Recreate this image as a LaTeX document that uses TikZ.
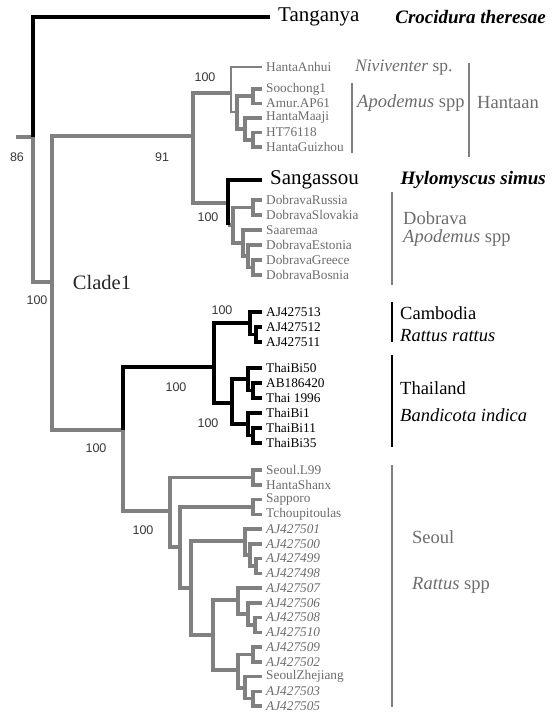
\documentclass[tikz,border=0pt]{standalone}
\usepackage{fontspec}
\setmainfont{Liberation Serif}
\setsansfont{Liberation Sans}
\usepackage{xcolor}
\definecolor{brgray}{RGB}{128,128,128}
\definecolor{txgray}{RGB}{108,108,108}
\definecolor{bsgray}{RGB}{55,55,55}
\tikzset{
  every picture/.style={line join=miter},
  gbr/.style={draw=brgray, line width=3.5pt},
  tbr/.style={draw=brgray, line width=2.2pt},
  kbr/.style={draw=black, line width=3.8pt},
  bar/.style={line width=1.8pt},
  leaf/.style={anchor=west, inner xsep=4pt, inner ysep=0pt, text=txgray, font=\fontsize{13.3}{14}\selectfont},
  ileaf/.style={leaf, font=\fontsize{13.3}{14}\selectfont\itshape},
  kleaf/.style={leaf, text=black},
  bleaf/.style={anchor=west, inner xsep=8pt, inner ysep=0pt, font=\fontsize{21}{22}\selectfont},
  big/.style={anchor=west, inner sep=0pt, font=\fontsize{18.5}{20}\selectfont},
  boot/.style={inner sep=0pt, text=bsgray, font=\sffamily\fontsize{12.5}{13}\selectfont},
}

\begin{document}
\begin{tikzpicture}[x=1pt,y=-1pt]
\useasboundingbox (0,0) rectangle (556,712);

\node[bleaf] (tang) at (270,17) {Tanganya};
\node[leaf] (anhui) at (262,67) {HantaAnhui};
\node[leaf] (sooch) at (262,89) {Soochong1};
\node[leaf] (amur) at (262,103.5) {Amur.AP61};
\node[leaf] (maaji) at (262,118) {HantaMaaji};
\node[leaf] (ht) at (262,132.5) {HT76118};
\node[leaf] (guiz) at (262,147) {HantaGuizhou};
\node[bleaf] (sang) at (262,180) {Sangassou};
\node[leaf] (russ) at (262,200) {DobravaRussia};
\node[leaf] (slov) at (262,215) {DobravaSlovakia};
\node[leaf] (saar) at (262,230) {Saaremaa};
\node[leaf] (esto) at (262,245) {DobravaEstonia};
\node[leaf] (gree) at (262,260) {DobravaGreece};
\node[leaf] (bosn) at (262,275) {DobravaBosnia};
\node[kleaf] (aj13) at (262,312) {AJ427513};
\node[kleaf] (aj12) at (262,327) {AJ427512};
\node[kleaf] (aj11) at (262,342) {AJ427511};
\node[kleaf] (tb50) at (262,368) {ThaiBi50};
\node[kleaf] (ab18) at (262,383) {AB186420};
\node[kleaf] (th96) at (262,398) {Thai 1996};
\node[kleaf] (tb1) at (262,413) {ThaiBi1};
\node[kleaf] (tb11) at (262,428) {ThaiBi11};
\node[kleaf] (tb35) at (262,443) {ThaiBi35};
\node[leaf] (sl99) at (262,470) {Seoul.L99};
\node[leaf] (shanx) at (262,484.75) {HantaShanx};
\node[leaf] (sapp) at (262,499.5) {Sapporo};
\node[leaf] (tcho) at (262,514.25) {Tchoupitoulas};
\node[ileaf] (aj01) at (262,529) {AJ427501};
\node[ileaf] (aj00) at (262,543.75) {AJ427500};
\node[ileaf] (aj99) at (262,558.5) {AJ427499};
\node[ileaf] (aj98) at (262,573.25) {AJ427498};
\node[ileaf] (aj07) at (262,588) {AJ427507};
\node[ileaf] (aj06) at (262,602.75) {AJ427506};
\node[ileaf] (aj08) at (262,617.5) {AJ427508};
\node[ileaf] (aj10) at (262,632.25) {AJ427510};
\node[ileaf] (aj09) at (262,647) {AJ427509};
\node[ileaf] (aj02) at (262,661.75) {AJ427502};
\node[leaf] (zhej) at (262,676.5) {SeoulZhejiang};
\node[ileaf] (aj03) at (262,691.25) {AJ427503};
\node[ileaf] (aj05) at (262,706) {AJ427505};

\coordinate (stub) at (16,137);
\coordinate (root) at (33,137);
\coordinate (c1) at (52,282);
\coordinate (hd) at (193,136);
\coordinate (hn) at (231,93);
\coordinate (h1) at (237,112);
\coordinate (h2) at (253,96);
\coordinate (h3) at (245,129);
\coordinate (h4) at (253,140);
\coordinate (dn) at (228,203);
\coordinate (d1) at (233,225);
\coordinate (d2) at (253,207.5);
\coordinate (d3) at (243,243);
\coordinate (d4) at (248,256);
\coordinate (d5) at (253,267.5);
\coordinate (rs) at (123,430);
\coordinate (ct) at (214,367);
\coordinate (cb) at (250,323);
\coordinate (cb1) at (256,334.5);
\coordinate (th) at (232,403);
\coordinate (th1) at (248,379);
\coordinate (th2) at (253,390.5);
\coordinate (th3) at (248,424);
\coordinate (th4) at (253,435.5);
\coordinate (se) at (170,511);
\coordinate (s1) at (253,477.4);
\coordinate (s2) at (180,547);
\coordinate (s3) at (253,507);
\coordinate (s4) at (191,588);
\coordinate (s5) at (245,541);
\coordinate (s6) at (250,555);
\coordinate (s7) at (256,566);
\coordinate (s8) at (213,635);
\coordinate (s9) at (238,600);
\coordinate (s10) at (248,614);
\coordinate (s11) at (255,625);
\coordinate (s12) at (238,670);
\coordinate (s13) at (253,654.4);
\coordinate (s14) at (245,688);
\coordinate (s15) at (253,698.6);

\draw[gbr] (stub) -- (root);
\draw[gbr] (root) |- (c1);
\draw[kbr] (root) |- (tang.west);
\draw[gbr] (c1) |- (hd) (c1) |- (rs);
\draw[gbr] (hd) |- (hn) (hd) |- (dn);
\draw[tbr] (hn) |- (anhui.west) (hn) |- (h1);
\draw[gbr] (h1) |- (h2) (h1) |- (h3);
\draw[gbr] (h2) |- (sooch.west) (h2) |- (amur.west);
\draw[gbr] (h3) |- (maaji.west) (h3) |- (h4);
\draw[gbr] (h4) |- (ht.west) (h4) |- (guiz.west);
\draw[gbr] (dn |- d1) -- (d1);
\draw[kbr] (dn |- d1) |- (sang.west);
\draw[gbr] (d1) |- (d2) (d1) |- (d3);
\draw[gbr] (d2) |- (russ.west) (d2) |- (slov.west);
\draw[gbr] (d3) |- (saar.west) (d3) |- (d4);
\draw[gbr] (d4) |- (esto.west) (d4) |- (d5);
\draw[gbr] (d5) |- (gree.west) (d5) |- (bosn.west);
\draw[gbr] (rs) |- (se);
\draw[kbr] (rs) |- (ct);
\draw[kbr] (ct) |- (cb) (ct) |- (th);
\draw[kbr] (cb) |- (aj13.west) (cb) |- (cb1);
\draw[kbr] (cb1) |- (aj12.west) (cb1) |- (aj11.west);
\draw[kbr] (th) |- (th1) (th) |- (th3);
\draw[kbr] (th1) |- (tb50.west) (th1) |- (th2);
\draw[kbr] (th2) |- (ab18.west) (th2) |- (th96.west);
\draw[kbr] (th3) |- (tb1.west) (th3) |- (th4);
\draw[kbr] (th4) |- (tb11.west) (th4) |- (tb35.west);
\draw[gbr] (se) |- (s1) (se) |- (s2);
\draw[gbr] (s1) |- (sl99.west) (s1) |- (shanx.west);
\draw[gbr] (s2) |- (s3) (s2) |- (s4);
\draw[gbr] (s3) |- (sapp.west) (s3) |- (tcho.west);
\draw[gbr] (s4) |- (s5) (s4) |- (s8);
\draw[gbr] (s5) |- (aj01.west) (s5) |- (s6);
\draw[gbr] (s6) |- (aj00.west) (s6) |- (s7);
\draw[gbr] (s7) |- (aj99.west) (s7) |- (aj98.west);
\draw[gbr] (s8) |- (s9) (s8) |- (s12);
\draw[gbr] (s9) |- (aj07.west) (s9) |- (s10);
\draw[gbr] (s10) |- (aj06.west) (s10) |- (s11);
\draw[gbr] (s11) |- (aj08.west) (s11) |- (aj10.west);
\draw[gbr] (s12) |- (s13) (s12) |- (s14);
\draw[gbr] (s13) |- (aj09.west) (s13) |- (aj02.west);
\draw[gbr] (s14) |- (zhej.west) (s14) |- (s15);
\draw[gbr] (s15) |- (aj03.west) (s15) |- (aj05.west);

\node[boot] (b86) at (17,157) {86};
\node[boot] (b91) at (162,157) {91};
\node[boot] (bhan) at (205,77) {100};
\node[boot] (bdob) at (208,217) {100};
\node[boot] (bcl1) at (37,300) {100};
\node[boot] (bcam) at (222,310) {100};
\node[boot] (bct) at (176,387) {100};
\node[boot] (btha) at (208,423) {100};
\node[boot] (brs) at (96,448) {100};
\node[boot] (bseo) at (143,530) {100};

\node[font=\fontsize{20.5}{21}\selectfont, text=black!85] (clade) at (102,282) {Clade1};

\node[big, anchor=east, font=\fontsize{19}{20}\selectfont] (croc) at (546,17) {\bfseries\itshape Crocidura theresae};
\node[big, text=txgray, font=\fontsize{17.5}{19}\selectfont] (nivi) at (355,68) {\itshape Niviventer\/\upshape\ sp.};
\node[big, text=txgray] (apo1) at (357,103) {\itshape Apodemus\/\upshape\ spp};
\node[big, text=txgray] (hant) at (477,103) {Hantaan};
\node[big, anchor=east, font=\fontsize{19}{20}\selectfont] (hylo) at (546,180) {\bfseries\itshape Hylomyscus simus};
\node[big, text=txgray] (dobr) at (403,218) {Dobrava};
\node[big, text=txgray] (apo2) at (403,238) {\itshape Apodemus\/\upshape\ spp};
\node[big] (camb) at (400,313) {Cambodia};
\node[big] (ratr) at (400,336) {\itshape Rattus rattus};
\node[big] (thal) at (400,388) {Thailand};
\node[big] (band) at (400,415) {\itshape Bandicota indica};
\node[big, text=txgray] (seou) at (412,537) {Seoul};
\node[big, text=txgray] (rats) at (412,585) {\itshape Rattus\/\upshape\ spp};

\draw[bar, draw=brgray] (352,83) -- (352,153);
\draw[bar, draw=brgray] (469,63) -- (469,157);
\draw[bar, draw=brgray] (392,192) -- (392,285);
\draw[bar, draw=black] (392,302) -- (392,342);
\draw[bar, draw=black] (392,355) -- (392,447);
\draw[bar, draw=brgray] (392,465) -- (392,707);
\end{tikzpicture}
\end{document}
